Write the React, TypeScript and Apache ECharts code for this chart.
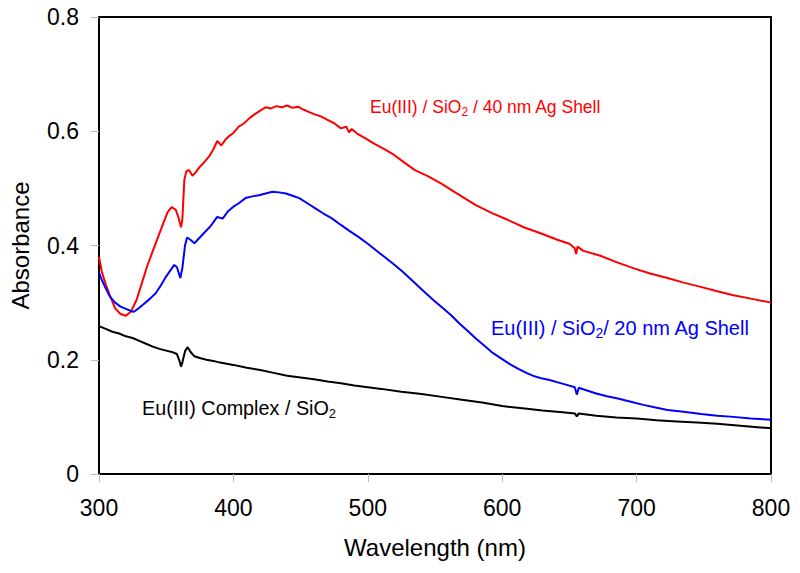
import React, { useEffect, useRef } from "react";
import * as echarts from "echarts";

const xTicks = [300, 400, 500, 600, 700, 800];
const yTicks = [0, 0.2, 0.4, 0.6, 0.8];

const redX = [300, 302, 305, 308, 312, 316, 320, 324, 328, 332, 336, 340, 344, 348, 351, 354, 357, 359, 361, 362, 363.5, 365, 367, 369.5, 372, 375, 378, 382, 385, 388, 391, 394, 397, 400, 404, 408, 412, 416, 420, 424, 428, 432, 436, 440, 444, 448, 452, 456, 460, 465, 470, 475, 480, 484, 486, 488, 492, 498, 505, 512, 518, 525, 535, 545, 555, 565, 580, 592, 604, 616, 629, 641, 650, 654, 655, 656, 660, 673, 685, 698, 710, 723, 735, 747, 760, 772, 785, 800];
const redY = [0.38, 0.355, 0.332, 0.313, 0.29, 0.28, 0.277, 0.285, 0.305, 0.335, 0.365, 0.39, 0.415, 0.44, 0.458, 0.467, 0.463, 0.45, 0.432, 0.445, 0.515, 0.53, 0.532, 0.522, 0.528, 0.538, 0.545, 0.556, 0.568, 0.583, 0.575, 0.585, 0.592, 0.597, 0.608, 0.614, 0.623, 0.63, 0.636, 0.642, 0.64, 0.644, 0.642, 0.645, 0.641, 0.643, 0.638, 0.634, 0.63, 0.626, 0.62, 0.614, 0.605, 0.608, 0.598, 0.604, 0.596, 0.588, 0.578, 0.569, 0.561, 0.549, 0.532, 0.521, 0.508, 0.493, 0.471, 0.457, 0.445, 0.432, 0.421, 0.41, 0.403, 0.395, 0.385, 0.398, 0.391, 0.382, 0.371, 0.36, 0.351, 0.343, 0.335, 0.328, 0.32, 0.313, 0.307, 0.3];

const blueX = [300, 302, 305, 308, 312, 316, 320, 324, 326, 330, 334, 338, 342, 346, 350, 353, 356, 358, 360.5, 362, 364, 365.5, 368, 371, 375, 379, 383, 388, 392, 396, 400, 404, 409, 414, 419, 424, 429, 434, 439, 444, 449, 455, 461, 467, 473, 480, 486, 493, 500, 507, 513, 520, 526, 531, 537, 543, 550, 556, 562, 568, 575, 581, 587, 593, 600, 606, 612, 618, 624, 630, 636, 642, 648, 654, 655.5, 657, 662, 670, 678, 686, 695, 705, 715, 723, 735, 748, 760, 772, 785, 800];
const blueY = [0.353, 0.34, 0.325, 0.311, 0.3, 0.293, 0.289, 0.285, 0.284, 0.291, 0.299, 0.307, 0.316, 0.33, 0.346, 0.356, 0.366, 0.362, 0.343, 0.36, 0.4, 0.414, 0.41, 0.404, 0.414, 0.424, 0.434, 0.45, 0.447, 0.46, 0.468, 0.474, 0.483, 0.486, 0.488, 0.491, 0.494, 0.493, 0.491, 0.487, 0.483, 0.474, 0.465, 0.456, 0.448, 0.436, 0.426, 0.415, 0.403, 0.39, 0.379, 0.366, 0.354, 0.343, 0.33, 0.317, 0.302, 0.29, 0.278, 0.264, 0.249, 0.236, 0.224, 0.212, 0.201, 0.192, 0.184, 0.177, 0.171, 0.167, 0.164, 0.16, 0.156, 0.152, 0.139, 0.151, 0.147, 0.141, 0.136, 0.132, 0.127, 0.121, 0.116, 0.112, 0.109, 0.105, 0.102, 0.1, 0.097, 0.095];

const blackX = [300, 305, 310, 315, 320, 325, 330, 335, 340, 345, 350, 355, 358, 360, 361, 362, 364, 366, 368, 371, 375, 380, 385, 390, 395, 400, 410, 420, 430, 440, 450, 460, 470, 480, 490, 500, 510, 525, 540, 555, 570, 585, 600, 615, 630, 645, 654, 655.5, 657, 670, 685, 700, 715, 730, 745, 760, 775, 790, 800];
const blackY = [0.259, 0.254, 0.249, 0.246, 0.241, 0.238, 0.233, 0.228, 0.223, 0.219, 0.216, 0.213, 0.21, 0.197, 0.188, 0.195, 0.215, 0.222, 0.214, 0.206, 0.203, 0.2, 0.198, 0.195, 0.193, 0.191, 0.186, 0.182, 0.177, 0.172, 0.169, 0.166, 0.162, 0.159, 0.155, 0.152, 0.149, 0.144, 0.14, 0.135, 0.13, 0.125, 0.119, 0.115, 0.111, 0.108, 0.106, 0.101, 0.106, 0.102, 0.099, 0.097, 0.094, 0.092, 0.09, 0.088, 0.085, 0.082, 0.08];

const zip = (xs: number[], ys: number[]) => xs.map((x, i) => [x, ys[i]]);

const FONT = "Liberation Sans, Arial, Helvetica, sans-serif";

function labelText(color: string, parts: string[], size: number) {
  return {
    text: `{a|${parts[0]}}{s|2}{a|${parts[1]}}`,
    fill: color,
    fontFamily: FONT,
    fontSize: size,
    verticalAlign: "middle",
    rich: {
      a: { fontSize: size, fontFamily: FONT, fill: color },
      s: { fontSize: Math.round(size * 0.68), fontFamily: FONT, fill: color, padding: [Math.round(size * 0.52), 0, 0, 0] },
    },
  };
}

export default function App() {
  const ref = useRef<HTMLDivElement>(null);
  useEffect(() => {
    if (!ref.current) return;
    const chart = echarts.init(ref.current, undefined, { renderer: "svg" });
    chart.setOption({
      animation: false,
      backgroundColor: "#fff",
      grid: {
        left: 96,
        top: 17,
        right: 29,
        bottom: 99,
        show: true,
        borderColor: "#000",
        borderWidth: 2,
      },
      xAxis: {
        type: "value",
        min: 300,
        max: 800,
        interval: 100,
        name: "Wavelength (nm)",
        nameLocation: "middle",
        nameGap: 61,
        nameTextStyle: { fontSize: 24, color: "#000", fontFamily: FONT },
        axisLine: { show: true, onZero: false, lineStyle: { color: "#000", width: 2 } },
        axisTick: { show: true, length: 8, lineStyle: { color: "#bbb", width: 1 } },
        axisLabel: { fontSize: 23, color: "#000", margin: 22, fontFamily: FONT },
        splitLine: { show: false },
      },
      yAxis: {
        type: "value",
        min: 0,
        max: 0.8,
        interval: 0.2,
        name: "Absorbance",
        nameLocation: "middle",
        nameGap: 67,
        nameTextStyle: { fontSize: 24, color: "#000", fontFamily: FONT },
        axisLine: { show: true, lineStyle: { color: "#000", width: 2 } },
        axisTick: { show: true, length: 8, lineStyle: { color: "#bbb", width: 1 } },
        axisLabel: {
          fontSize: 23,
          color: "#000",
          margin: 20,
          fontFamily: FONT,
          formatter: (v: number) => (v === 0 ? "0" : v.toFixed(1)),
        },
        splitLine: { show: false },
      },
      series: [
        {
          name: "Eu(III) / SiO2 / 40 nm Ag Shell",
          type: "line",
          data: zip(redX, redY),
          showSymbol: false,
          lineStyle: { color: "#ff0000", width: 2 },
        },
        {
          name: "Eu(III) / SiO2 / 20 nm Ag Shell",
          type: "line",
          data: zip(blueX, blueY),
          showSymbol: false,
          lineStyle: { color: "#0000ff", width: 2 },
        },
        {
          name: "Eu(III) Complex / SiO2",
          type: "line",
          data: zip(blackX, blackY),
          showSymbol: false,
          lineStyle: { color: "#000000", width: 2 },
        },
      ],
      graphic: [
        { type: "text", x: 370, y: 107, style: labelText("#ff0000", ["Eu(III) / SiO", " / 40 nm Ag Shell"], 17.5) },
        { type: "text", x: 491, y: 328, style: labelText("#0000ff", ["Eu(III) / SiO", "/ 20 nm Ag Shell"], 20) },
        { type: "text", x: 142, y: 408, style: labelText("#000000", ["Eu(III) Complex / SiO", ""], 19.8) },
      ],
    });
    return () => chart.dispose();
  }, []);
  return (
    <div
      ref={ref}
      style={{ position: "fixed", left: 0, top: 0, width: 800, height: 573, background: "#fff" }}
    />
  );
}
